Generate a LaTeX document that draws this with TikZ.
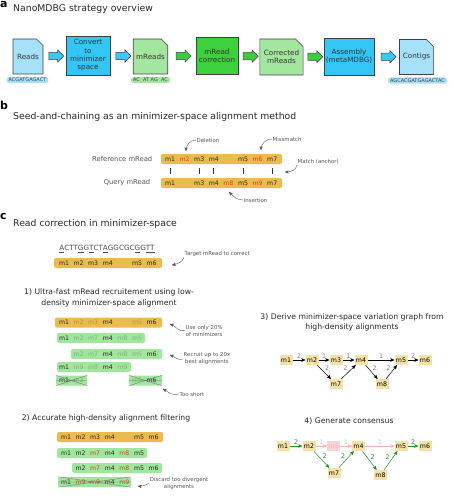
\documentclass[tikz,border=0pt]{standalone}
\usepackage{fontspec}
\setmainfont{DejaVu Sans}
\usetikzlibrary{arrows,shapes.misc,shapes.arrows,calc}

\definecolor{docblue}{HTML}{A6E1FA}
\definecolor{boxblue}{HTML}{33C6F4}
\definecolor{docgreen}{HTML}{A4E6A0}
\definecolor{boxgreen}{HTML}{3DD13D}
\definecolor{arrblue}{HTML}{3CC8F5}
\definecolor{arrgreen}{HTML}{3DCC3D}
\definecolor{mbarorange}{HTML}{EDBA4E}
\definecolor{mbargreen}{HTML}{A0E69C}
\definecolor{mredtxt}{HTML}{E63B1E}
\definecolor{gbox}{HTML}{F5E2A6}
\definecolor{gpink}{HTML}{F7B3B3}
\definecolor{ggreen}{HTML}{23902A}
\definecolor{anngray}{HTML}{555555}

\newcommand{\fs}[1]{\fontsize{#1}{#1}\selectfont}
% one row of minimizers inside a bar: prefix, x of slot 1, y, slot/label/style
\newcommand{\mrow}[4]{\foreach \mk/\ml/\ms in {#4} {\node[mlab,\ms] (#1\mk) at ({#2+14.6*(\mk-1)},#3) {\ml};}}

\tikzset{
  doc/.style={chamfered rectangle, chamfered rectangle corners=north east,
    chamfered rectangle xsep=4pt, draw=black!75, line width=0.6pt, inner sep=0pt,
    align=center, font=\fontsize{7.2}{8.3}\selectfont, text=black!80},
  stepbox/.style={rectangle, draw=black!75, line width=0.6pt, inner sep=0pt,
    align=center, font=\fontsize{7.2}{8.3}\selectfont, text=black!80},
  blk/.style={single arrow, draw=black!75, line width=0.5pt, inner sep=3.3pt,
    minimum height=15pt, single arrow head extend=2.5pt},
  pill/.style={rounded corners=2.5pt, inner xsep=2pt, inner ysep=1.2pt,
    font=\fs{5}, text=black!75},
  mbar/.style={rounded corners=2pt, minimum height=10pt, inner sep=0pt},
  mlab/.style={inner sep=0pt, font=\fs{6.2}},
  mdark/.style={text=black!85},
  mfade/.style={text=black!85, text opacity=0.28},
  mred/.style={text=mredtxt},
  xcross/.style={draw=black!55, line width=0.35pt},
  ann/.style={font=\fontsize{5.4}{7}\selectfont, text=anngray, inner sep=0.5pt, align=center},
  annarr/.style={->, draw=anngray, line width=0.4pt},
  ttl/.style={anchor=west, font=\fs{9.3}, text=black!85, inner sep=0pt},
  sttl/.style={align=center, font=\fontsize{7.7}{10.5}\selectfont, text=black!85, inner sep=0pt},
  plab/.style={anchor=base west, font=\bfseries\fs{11}, inner sep=0pt},
  gnode/.style={fill=gbox, minimum width=13pt, minimum height=10pt, inner sep=0pt, font=\fs{6.3}},
  gedge/.style={->, line width=0.5pt, black},
  elab/.style={font=\fs{6.3}, text=black!50, inner sep=0.8pt},
  cedge/.style={->, line width=0.5pt, ggreen},
  clab/.style={font=\fs{6.3}, text=ggreen, inner sep=0.8pt},
  pedge/.style={->, line width=0.5pt, gpink},
  pclab/.style={font=\fs{6.3}, text=gpink, inner sep=0.8pt}
}

\begin{document}
\begin{tikzpicture}[x=1pt,y=-1pt,>=stealth',auto]
\useasboundingbox (0,0) rectangle (467,500);
\clip (0,0) rectangle (467,500);

% ---------- a
\node[plab] (laba) at (0,7.5) {a};
\node[ttl] (titlea) at (13,9) {NanoMDBG strategy overview};

\node[doc, fill=docblue, minimum width=30, minimum height=35] (reads) at (28,56.5) {Reads};
\node[stepbox, fill=boxblue, minimum width=44, minimum height=39] (conv) at (88,55.5) {Convert\\to\\minimizer\\space};
\node[doc, fill=docgreen, minimum width=31, minimum height=35] (mreads) at (150.5,56.5) {mReads};
\node[stepbox, fill=boxgreen, minimum width=42, minimum height=37] (corr) at (217,55.5) {mRead\\correction};
\node[doc, fill=docgreen, minimum width=39, minimum height=36] (cmreads) at (281.5,57) {Corrected\\mReads};
\node[stepbox, fill=boxblue, minimum width=50, minimum height=37] (asm) at (349,56.5) {Assembly\\(metaMDBG)};
\node[doc, fill=docblue, minimum width=31, minimum height=35] (contigs) at (416.5,57) {Contigs};

\node[blk, fill=arrblue] (ar1) at ($(reads.east)!0.5!(conv.west)$) {};
\node[blk, fill=arrblue] (ar2) at ($(conv.east)!0.5!(mreads.west)$) {};
\node[blk, fill=arrgreen] (ar3) at ($(mreads.east)!0.5!(corr.west)$) {};
\node[blk, fill=arrgreen] (ar4) at ($(corr.east)!0.5!(cmreads.west)$) {};
\node[blk, fill=arrgreen] (ar5) at ($(cmreads.east)!0.5!(asm.west)$) {};
\node[blk, fill=arrblue] (ar6) at ($(asm.east)!0.5!(contigs.west)$) {};

\node[pill, fill=docblue] (readsseq) at (27.5,80) {ACGATGAGACT};
\node[pill, fill=docgreen] (mreadsseq) at (150.5,80) {AC\ \ AT AG\ \ AC};
\node[pill, fill=docblue] (contigseq) at (417.5,80.5) {AGCACGATGAGACTAC};

% ---------- b
\node[plab] (labb) at (0,110) {b};
\node[ttl] (titleb) at (13,117) {Seed-and-chaining as an minimizer-space alignment method};

\node[ann, font=\fs{6.8}, anchor=east] (refname) at (153,159) {Reference mRead};
\node[ann, font=\fs{6.8}, anchor=east] (qryname) at (151,183) {Query mRead};
\node[mbar, fill=mbarorange, minimum width=121] (refbar) at (221.5,159) {};
\node[mbar, fill=mbarorange, minimum width=121] (qrybar) at (221.5,183) {};
\mrow{ref}{170}{159}{1/m1/mdark,2/m2/mred,3/m3/mdark,4/m4/mdark,6/m5/mdark,7/m6/mred,8/m7/mdark}
\mrow{qry}{170}{183}{1/m1/mdark,3/m3/mdark,4/m4/mdark,5/m8/mred,6/m5/mdark,7/m9/mred,8/m7/mdark}
\foreach \mk in {1,3,4,6,8}
  \draw[line width=0.9pt, black!80] ($(ref\mk)+(0,9)$) -- ($(qry\mk)+(0,-9)$);

\node[ann, anchor=west] (delnote) at (196,140) {Deletion};
\coordinate (delend) at (186,151);
\draw[annarr] (delnote.west) to[out=180,in=90] (delend);
\node[ann, anchor=west] (misnote) at (272,139) {Missmatch};
\coordinate (misend) at (261,150);
\draw[annarr] (misnote.west) to[out=180,in=90] (misend);
\node[ann, anchor=west] (matchnote) at (297,162) {Match (anchor)};
\coordinate (matchend) at (285,172);
\draw[annarr] (matchnote.south west) to[out=-100,in=0] (matchend);
\node[ann, anchor=west] (insnote) at (243,200) {Insertion};
\coordinate (insend) at (229,192);
\draw[annarr] (insnote.west) to[out=180,in=-45] (insend);

% ---------- c
\node[plab] (labc) at (0,219) {c};
\node[ttl] (titlec) at (13,224) {Read correction in minimizer-space};

\node[font=\fs{7.2}, text=black!70, inner sep=0pt] (tgtseq) at (107,249)
  {\underline{A}CTT\underline{G}G\underline{T}CT\underline{A}GGCGC\underline{G}G\underline{T}\underline{T}};
\node[mbar, fill=mbarorange, minimum width=108] (tgtbar) at (108,263) {};
\mrow{tgt}{64}{263}{1/m1/mdark,2/m2/mdark,3/m3/mdark,4/m4/mdark,6/m5/mdark,7/m6/mdark}
\node[ann, anchor=west] (tgtnote) at (184,254) {Target mRead to correct};
\coordinate (tgtend) at (172,265);
\draw[annarr] (tgtnote.south west) to[out=-110,in=10] (tgtend);

% step 1
\node[sttl] (st1) at (109,298) {1) Ultra-fast mRead recruitement using low-\\density minimizer-space alignment};
\node[mbar, fill=mbarorange, minimum width=107] (s1o) at (108.5,322.5) {};
\mrow{sa}{64}{322.5}{1/m1/mdark,2/m2/mfade,3/m3/mfade,4/m4/mdark,6/m5/mfade,7/m6/mdark}
\node[mbar, fill=mbargreen, minimum width=88] (s1a) at (101,338) {};
\mrow{sb}{64}{338}{1/m1/mdark,2/m2/mfade,3/m7/mfade,4/m4/mdark,5/m8/mfade,6/m5/mfade}
\node[mbar, fill=mbargreen, minimum width=91] (s1b) at (116.5,354) {};
\mrow{sc}{64}{354}{2/m2/mfade,3/m7/mfade,4/m4/mdark,5/m8/mfade,6/m5/mfade,7/m6/mdark}
\node[mbar, fill=mbargreen, minimum width=74] (s1c) at (94,367) {};
\mrow{sd}{64}{367}{1/m1/mdark,2/m9/mfade,3/m9/mfade,4/m4/mdark,5/m9/mfade}
\node[mbar, fill=mbargreen, minimum width=31] (s1d) at (71.5,380.5) {};
\mrow{se}{64}{380.5}{1/m1/mdark,2/m2/mfade}
\node[mbar, fill=mbargreen, minimum width=33] (s1e) at (145.5,380.5) {};
\mrow{sf}{64}{380.5}{6/m5/mfade,7/m6/mdark}
\foreach \bx in {s1d,s1e}
  \draw[xcross] (\bx.north west) -- (\bx.south east) (\bx.south west) -- (\bx.north east)
    (\bx.west) -- (\bx.east);

\node[ann, anchor=west] (usenote) at (185,330.5) {Use only 20\%\\of minimizers};
\coordinate (useend) at (170,324);
\draw[annarr] (usenote.west) to[out=200,in=-20] (useend);
\node[ann, anchor=west] (recnote) at (183,359) {Recruit up to 20x\\best alignments};
\coordinate (recend) at (170,355);
\draw[annarr] (recnote.west) to[out=200,in=-20] (recend);
\node[ann, anchor=west] (shortnote) at (179,394) {Too short};
\coordinate (shortend) at (163,389);
\draw[annarr] (shortnote.west) to[out=200,in=-30] (shortend);

% step 2
\node[sttl] (st2) at (106,418) {2) Accurate high-density alignment filtering};
\node[mbar, fill=mbarorange, minimum width=106] (s2o) at (110,437) {};
\mrow{ta}{66}{437}{1/m1/mdark,2/m2/mdark,3/m3/mdark,4/m4/mdark,6/m5/mdark,7/m6/mdark}
\node[mbar, fill=mbargreen, minimum width=90] (s2a) at (102,453) {};
\mrow{tb}{66}{453}{1/m1/mdark,2/m2/mdark,3/m7/mred,4/m4/mdark,5/m8/mred,6/m5/mdark}
\node[mbar, fill=mbargreen, minimum width=90] (s2b) at (117,468) {};
\mrow{tc}{66}{468}{2/m2/mdark,3/m7/mred,4/m4/mdark,5/m8/mred,6/m5/mdark,7/m6/mdark}
\node[mbar, fill=mbargreen, minimum width=73] (s2c) at (94.5,482) {};
\mrow{td}{66}{482}{1/m1/mdark,2/m9/mred,3/m9/mred,4/m4/mdark,5/m9/mred}
\draw[xcross] (s2c.north west) -- (s2c.south east) (s2c.south west) -- (s2c.north east)
  (s2c.west) -- (s2c.east);

\node[ann] (discnote) at (179,483.5) {Discard too divergent\\alignments};
\coordinate (discend) at (138,486);
\draw[annarr] (discnote.west) to[out=200,in=-10] (discend);

% step 3
\node[sttl] (st3) at (352,322.5) {3) Derive minimizer-space variation graph from\\high-density alignments};
\node[gnode] (g1) at (286,360) {m1};
\node[gnode] (g2) at (312,360) {m2};
\node[gnode] (g3) at (336,360) {m3};
\node[gnode] (g4) at (361,360) {m4};
\node[gnode] (g5) at (401,360) {m5};
\node[gnode] (g6) at (425,360) {m6};
\node[gnode] (g7) at (336,384) {m7};
\node[gnode] (g8) at (382,384) {m8};
\draw[gedge] (g1) -- node[elab]{2} (g2);
\draw[gedge] (g2) -- node[elab]{1} (g3);
\draw[gedge] (g3) -- node[elab]{1} (g4);
\draw[gedge] (g4) -- node[elab]{1} (g5);
\draw[gedge] (g5) -- node[elab]{2} (g6);
\draw[gedge] (g2) -- node[elab]{2} (g7);
\draw[gedge] (g7) -- node[elab]{2} (g4);
\draw[gedge] (g4) -- node[elab]{2} (g8);
\draw[gedge] (g8) -- node[elab]{2} (g5);

% step 4
\node[sttl] (st4) at (349,421) {4) Generate consensus};
\node[gnode] (c1) at (283,446) {m1};
\node[gnode] (c2) at (309,446) {m2};
\node[gnode, fill=gpink!55, text=gpink] (c3) at (333.5,446) {m3};
\node[gnode] (c4) at (358.5,446) {m4};
\node[gnode] (c5) at (401,446) {m5};
\node[gnode] (c6) at (425,446) {m6};
\node[gnode] (c7) at (334,473) {m7};
\node[gnode] (c8) at (380.5,475) {m8};
\draw[cedge] (c1) -- node[clab]{2} (c2);
\draw[pedge] (c2) -- node[pclab]{1} (c3);
\draw[pedge] (c3) -- node[pclab]{1} (c4);
\draw[pedge] (c4) -- node[pclab]{1} (c5);
\draw[cedge] (c5) -- node[clab]{2} (c6);
\draw[cedge] (c2) -- node[clab]{2} (c7);
\draw[cedge] (c7) -- node[clab]{2} (c4);
\draw[cedge] (c4) -- node[clab]{2} (c8);
\draw[cedge] (c8) -- node[clab]{2} (c5);
\end{tikzpicture}
\end{document}
